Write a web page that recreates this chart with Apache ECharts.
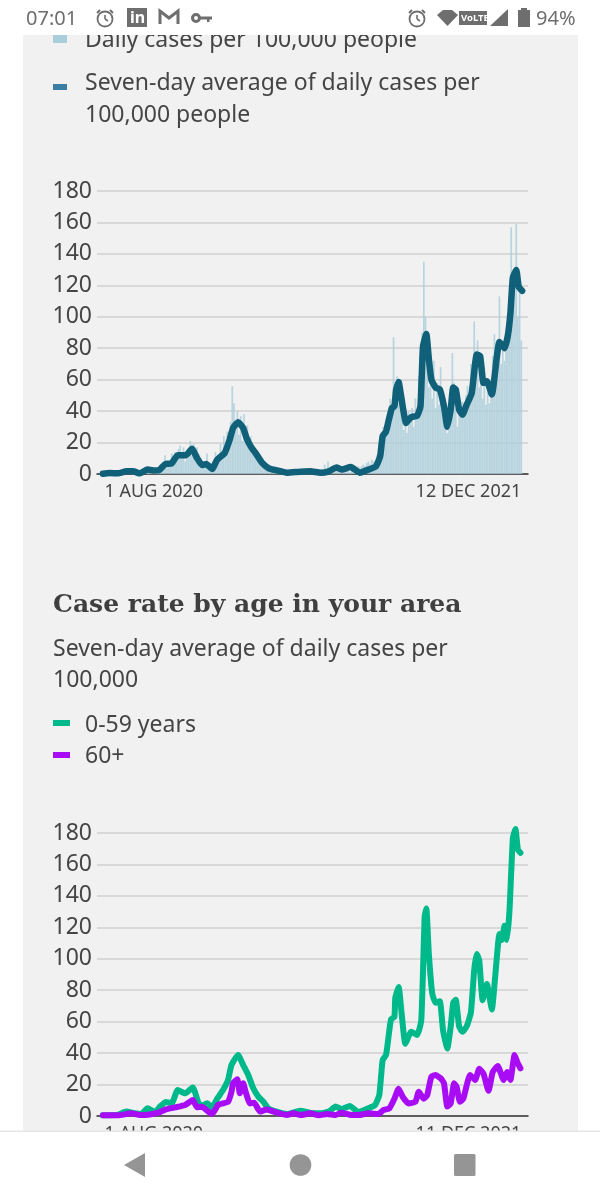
<!DOCTYPE html>
<html><head><meta charset="utf-8">
<style>html,body{margin:0;padding:0;background:#fff}#c{width:600px;height:1200px}</style>
<script src="https://cdn.jsdelivr.net/npm/echarts@6/dist/echarts.min.js"></script>
</head><body><div id="c"></div>
<script>
const yTicks=[0,20,40,60,80,100,120,140,160,180];
const xLabels1=['1 AUG 2020','12 DEC 2021'];
const xLabels2=['1 AUG 2020','11 DEC 2021'];
// daily cases, one reading every second day from day 0
const dailyCases=[0,0,1,1,0,1,0,0,1,1,2,1,1,2,2,1,2,1,0,1,0,1,2,3,3,2,3,2,3,2,1,2,3,4,
5,3,7,12,4,8,5,13,7,14,9,16,18,11,17,8,14,13,21,12,19,10,17,13,7,8,5,6,13,5,4,3,
8,14,6,11,19,9,24,12,27,17,33,56,45,28,40,25,37,21,38,23,31,16,24,13,16,10,12,8,10,6,7,4,5,3,4,
3,2,3,2,2,1,1,1,1,1,1,2,2,2,3,2,1,1,1,1,1,0,1,1,1,1,2,2,3,1,2,6,3,8,2,4,3,2,4,5,4,3,4,1,1,2,1,3,3,4,3,5,4,5,6,5,7,8,6,9,
8,7,12,10,20,22,30,24,35,30,48,44,87,56,62,45,50,42,28,35,26,40,32,42,30,48,36,62,40,90,135,100,72,55,60,48,72,42,58,44,68,40,50,32,26,45,38,77,58,42,30,52,38,46,42,50,56,45,70,60,97,72,85,55,62,48,68,44,60,45,58,75,89,70,82,113,70,85,72,90,85,110,157,125,130,159,100,125,85];
const avgDays=[0,8,18,28,36,44,53,60,67,74,82,89,99,106,112,118,123,130,136,145,151,155,161,167,171,176,183,189,197,207,219,235,247,259,269,278,284,295,306,316,325,330,333,337,340,344,347,349,352,355,361,367,374,378,381,385,388,391,396,401,406,410,414,417,420,424,428,433,439,445,449,453,457,463,469,472,478,482,485,488,492,495,499];
const avgValues=[0.2,0.6,0.4,1.7,1.7,0.4,2.8,2.3,2.5,6.2,6.8,12,12,16,10.2,5.7,6.4,3.2,9.1,13.4,21.9,29.3,32.9,29.3,22.9,17.6,12.3,7.4,3.8,2.3,0.8,1.5,1.7,0.8,1.7,4.2,2.8,4.4,0.8,2.8,4.9,11.2,24,27,33.7,42,43,53.6,58.5,49.4,32.4,36.2,37,43,81,89,73,60,55,53.8,43,30,41,55,53.8,41,37.8,44,51.5,76,75,58,59,50.6,75,84,80,88,102,125,129.7,119,116.5];
const youngDays=[0,18,28,38,46,53,62,68,75,82,89,98,107,114,118,124,130,136,143,149,153,161,167,173,179,185,191,197,207,219,235,247,259,269,277,284,294,304,316,324,329,333,337,340,343,347,348,352,356,360,367,374,379,383,385,388,392,396,401,405,410,414,417,420,424,428,433,438,442,445,448,452,457,463,467,472,475,478,481,484,488,491,494,497];
const youngValues=[0.4,0.8,2.8,1.7,1.3,4.9,2.5,6,8.9,8.1,16.5,14.4,18.2,8.1,6.4,8.1,5.5,11,16.5,22.9,32.4,38.8,32.4,26.1,17.6,12.3,9.1,4.9,2.8,1.3,3.4,2,1.7,2.8,6,4.4,6.4,2.5,4.9,7,13.3,35.6,38.8,50.4,61.6,63,75,82,63,46,53.6,51.5,61,127,132,103,78,72,73,54,43,57,72,74,57,53.6,57,65.7,93,103,99,73.7,84,67.8,89,115.7,112,121,112,131,176.8,182.6,169.5,167.4];
const olderDays=[0,18,34,44,54,66,75,86,98,107,112,118,124,130,137,143,149,153,155,160,163,167,170,175,180,187,195,207,219,227,235,247,257,267,277,284,294,304,316,328,334,341,347,352,357,364,372,376,382,386,391,396,402,406,410,414,418,421,425,429,437,443,448,453,459,464,470,477,481,485,490,493,497];
const olderValues=[0.4,0.4,1.7,0.6,0.8,2.1,4.2,5.5,7,10.2,5.5,5.9,3.4,1.3,7,8,9,15.3,20.8,23.3,14.4,20.8,15.3,8,8.5,2.8,4.2,2.1,0.6,1.7,0.6,1.7,0.4,1.3,0.6,2.1,0.8,0.6,1.7,1.3,3.8,4.9,11,17.4,12.1,8,9,15.4,11,13.2,25,26,24,20.8,6,8,20.8,18.6,9,11,26,22.9,30,26.9,16,28,31.8,22.9,28,22.9,38.8,34.6,30.3];

const zip=(a,b)=>a.map((d,i)=>[d,b[i]]);
const FONT='"Noto Sans"';
const TXT='#454545';
function xAxis(i,labels,ends){return {gridIndex:i,type:'value',min:-7,max:506,splitLine:{show:false},
  axisLine:{show:true,onZero:false,lineStyle:{color:'#333',width:1.5}},axisTick:{show:false},
  axisLabel:{customValues:ends,margin:9,color:TXT,fontFamily:FONT,fontSize:18,alignMinLabel:'left',alignMaxLabel:'right',
    formatter:v=>v===ends[0]?labels[0]:labels[1]}};}
function yAxis(i){return {gridIndex:i,type:'value',min:yTicks[0],max:yTicks[yTicks.length-1],interval:20,
  axisLine:{show:false},axisTick:{show:false},splitLine:{lineStyle:{color:'#cfcfcf',width:1.6}},
  axisLabel:{margin:5,color:TXT,fontFamily:FONT,fontSize:23,padding:[5,0,0,0]}};}
const t=(x,y,text,o)=>({type:'text',x,y,z:o&&o.z||5,style:Object.assign({text,fill:TXT,font:'23px '+FONT,verticalAlign:'middle',align:'left'},o&&o.s||{})});
const r=(x,y,w,h,fill,z)=>({type:'rect',z:z||5,shape:{x,y,width:w,height:h},style:{fill}});
const TOP=50,G='#6e6e6e',N='#959595';
const ring=(cx,cy,rad)=>({type:'circle',z:TOP+1,shape:{cx,cy,r:rad},style:{fill:'none',stroke:G,lineWidth:1.8}});
const seg=(x1,y1,x2,y2,w)=>({type:'line',z:TOP+1,shape:{x1,y1,x2,y2},style:{stroke:G,lineWidth:w||1.6}});
const graphic=[
  r(23,35,555,1100,'#f1f1f1',-10),
  // legend and headings
  t(85,40,'Daily cases per 100,000 people'),
  r(53,35,14,8,'#a9cedb'),
  t(85,83,'Seven-day average of daily cases per'),
  r(53,84,14,6,'#3a7fa3'),
  t(85,115,'100,000 people'),
  t(53,605,'Case rate by age in your area',{s:{font:'bold 25px "DejaVu Serif"',fill:'#3f3f3f'}}),
  t(53,649,'Seven-day average of daily cases per'),
  t(53,680,'100,000'),
  r(53,720,17,6,'#00b98a'),
  t(85,725,'0-59 years'),
  r(53,752,17,6,'#a80cf5'),
  t(85,756,'60+'),
  // status bar
  r(0,0,600,35,'#ffffff',TOP),
  t(26,19,'07:01',{z:TOP+1,s:{font:'20px '+FONT,fill:G}}),
  ring(105,19,7.5),seg(105,15,105,19),seg(105,19,108,21),seg(97,13,100,10,2),seg(110,10,113,13,2),
  r(127,8,20,19,G,TOP+1),
  t(130,18,'in',{z:TOP+2,s:{font:'bold 16px '+FONT,fill:'#fff'}}),
  {type:'polyline',z:TOP+1,shape:{points:[[160,24],[160,11],[169,18],[178,11],[178,24]]},style:{fill:'none',stroke:G,lineWidth:3}},
  {type:'circle',z:TOP+1,shape:{cx:196,cy:18,r:3.5},style:{fill:'none',stroke:G,lineWidth:3}},
  r(200,16.5,12,3,G,TOP+1),r(207,18,2.5,4,G,TOP+1),
  ring(417,19,7.5),seg(417,15,417,19),seg(417,19,420,21),seg(409,13,412,10,2),seg(422,10,425,13,2),
  {type:'polygon',z:TOP+1,shape:{points:[[437,15],[443,10],[452,10],[458,15],[447.5,26]]},style:{fill:G}},
  r(459,11,28,14,G,TOP),
  t(461,18.5,'VoLTE',{z:TOP+2,s:{font:'bold 9.5px "Liberation Sans Narrow","Noto Sans"',fill:'#fff'}}),
  {type:'polygon',z:TOP+1,shape:{points:[[490,26],[508,26],[508,9]]},style:{fill:G}},
  r(518,10,12,17,G,TOP+1),r(521,8,6,2,G,TOP+1),
  t(536,19,'94%',{z:TOP+1,s:{font:'20px '+FONT,fill:G}}),
  // navigation bar
  r(0,1131,600,69,'#ffffff',TOP),
  r(0,1130.5,600,1.5,'#e6e6e6',TOP+1),
  {type:'polygon',z:TOP+1,shape:{points:[[124,1165],[145,1153],[145,1177]]},style:{fill:N}},
  {type:'circle',z:TOP+1,shape:{cx:300.5,cy:1165,r:10.8},style:{fill:N}},
  {type:'rect',z:TOP+1,shape:{x:454,y:1154,width:21.5,height:22,r:1.5},style:{fill:N}}
];

const chart=echarts.init(document.getElementById('c'),null,{renderer:'canvas',width:600,height:1200});
const line=(name,i,data,color,w)=>({name,type:'line',xAxisIndex:i,yAxisIndex:i,data,showSymbol:false,z:3,animation:false,clip:false,smooth:0.15,
  lineStyle:{color,width:w,cap:'round',join:'round'}});
chart.setOption({animation:false,backgroundColor:'#fff',
  grid:[{left:97,top:191,width:431,height:283},{left:97,top:833,width:431,height:283}],
  xAxis:[xAxis(0,xLabels1,[2,498]),xAxis(1,xLabels2,[2,498])],
  yAxis:[yAxis(0),yAxis(1)],
  graphic:{elements:graphic},
  series:[
    {name:'Daily cases per 100,000 people',type:'bar',xAxisIndex:0,yAxisIndex:0,barWidth:1.7,z:2,
      itemStyle:{color:'#aecfdb',opacity:0.85},data:dailyCases.map((v,i)=>[i*2,v])},
    line('Seven-day average of daily cases per 100,000 people',0,zip(avgDays,avgValues),'#0f6078',6.5),
    line('0-59 years',1,zip(youngDays,youngValues),'#00b98a',6),
    line('60+',1,zip(olderDays,olderValues),'#a80cf5',6)
  ]});
</script></body></html>
